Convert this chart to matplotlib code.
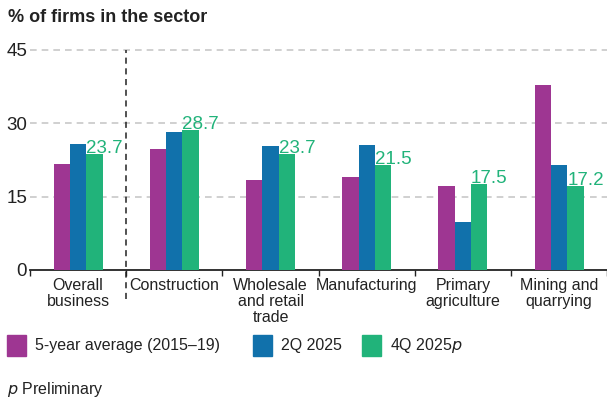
import numpy as np
import matplotlib
matplotlib.use("Agg")
import matplotlib.pyplot as plt

plt.rcParams["font.family"] = ["Liberation Sans", "DejaVu Sans"]

categories = ["Overall\nbusiness", "Construction", "Wholesale\nand retail\ntrade",
              "Manufacturing", "Primary\nagriculture", "Mining and\nquarrying"]
avg_2015_19 = [21.6, 24.7, 18.4, 19.0, 17.1, 37.8]
q2_2025 = [25.7, 28.2, 25.3, 25.5, 9.8, 21.4]
q4_2025p = [23.7, 28.7, 23.7, 21.5, 17.5, 17.2]
series_names = ["5-year average (2015\u201319)", "2Q 2025", "4Q 2025$\\it{p}$"]
yticks = [0, 15, 30, 45]

purple = "#9E3692"
blue = "#1171AB"
green = "#21B37A"
dark = "#222222"

fig = plt.figure(figsize=(6.07, 4.0), dpi=100)
ax = fig.add_axes([0.0494, 0.325, 0.951, 0.55])

x = np.arange(len(categories))
w = 0.17
ax.bar(x - w, avg_2015_19, w, color=purple, zorder=3)
ax.bar(x, q2_2025, w, color=blue, zorder=3)
ax.bar(x + w, q4_2025p, w, color=green, zorder=3)

for xi, v in zip(x, q4_2025p):
    ax.text(xi + w / 2, v - 0.6, f"{v:.1f}", color=green, fontsize=13.5,
            ha="left", va="bottom", zorder=4)

ax.set_xlim(-0.5, len(categories) - 0.5)
ax.set_ylim(0, 45)
ax.set_yticks(yticks)
ax.set_yticklabels([str(t) for t in yticks], fontsize=13.5, color=dark)
for t in yticks[1:]:
    ax.axhline(t, color="#c8c8c8", lw=1.2, ls=(0, (4, 3)), zorder=1, clip_on=False)
ax.tick_params(axis="y", length=0, pad=2)

ax.set_xticks(x)
ax.set_xticklabels(categories, fontsize=11.5, color=dark, linespacing=1.05, va="top")
ax.tick_params(axis="x", length=0, pad=6)
ax.set_xticks(np.arange(len(categories) + 1) - 0.5, minor=True)
ax.tick_params(axis="x", which="minor", length=4, width=1, color=dark)

for s in ["top", "right", "left"]:
    ax.spines[s].set_visible(False)
ax.spines["bottom"].set_color(dark)
ax.spines["bottom"].set_linewidth(1.3)

ax.plot([0.5, 0.5], [-0.13, 1.0], transform=ax.get_xaxis_transform(),
        color=dark, lw=1.1, ls=(0, (4, 3)), clip_on=False, zorder=5)

fig.text(0.013, 0.955, "% of firms in the sector", fontsize=13,
         fontweight="bold", color=dark, va="center")

# legend
leg_y = 0.137
for xpos, col, name in zip([0.012, 0.417, 0.597], [purple, blue, green], series_names):
    fig.patches.append(plt.Rectangle((xpos, leg_y - 0.027), 0.031, 0.053,
                                     transform=fig.transFigure, color=col))
    fig.text(xpos + 0.046, leg_y, name, fontsize=11.5, color=dark, va="center")

fig.text(0.012, 0.027, "$\\it{p}$ Preliminary", fontsize=11.5, color=dark, va="center")

fig.savefig("out.png", dpi=100)
